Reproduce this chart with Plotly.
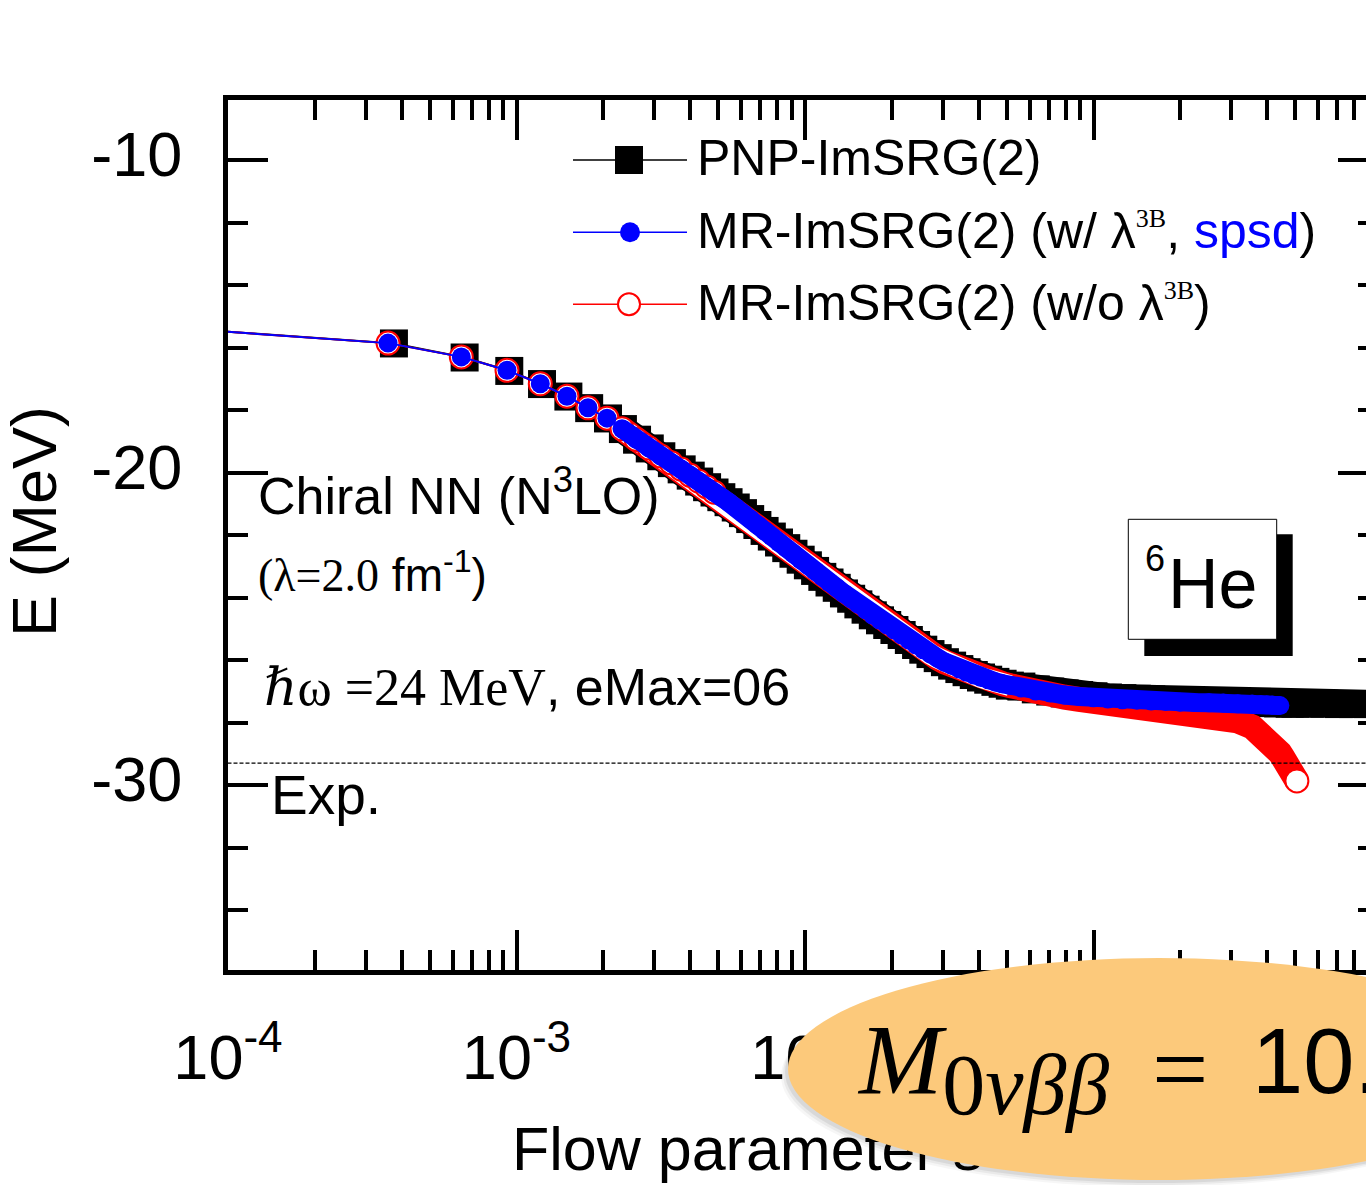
import plotly.graph_objects as go

# ---------------- data ----------------
# flow parameter s for the MR-IMSRG(2) runs (first value lies left of the axis)
s_mr = [7.6e-5, 3.586e-4, 6.437e-4, 9.27e-4, 1.209e-3, 1.496e-3, 1.769e-3, 2.059e-3,
        2.321e-3, 2.60e-3, 2.88e-3, 3.16e-3, 3.44e-3, 3.72e-3, 4.00e-3, 4.28e-3,
        4.56e-3, 4.84e-3,
        5.129e-3, 5.433e-3, 5.754e-3, 6.095e-3, 6.457e-3, 6.839e-3, 7.244e-3, 7.674e-3,
        8.128e-3, 8.610e-3, 9.120e-3, 9.661e-3, 1.0233e-2, 1.0839e-2, 1.1482e-2, 1.2162e-2,
        1.2882e-2, 1.3646e-2, 1.4454e-2, 1.5311e-2, 1.6218e-2, 1.7179e-2, 1.8197e-2, 1.9275e-2,
        2.0417e-2, 2.1627e-2, 2.2909e-2, 2.4266e-2, 2.5704e-2, 2.7227e-2, 2.8840e-2, 3.0549e-2,
        3.2359e-2, 3.4277e-2, 3.6308e-2, 3.8459e-2, 4.0738e-2, 4.3152e-2, 4.5709e-2, 4.8417e-2,
        5.129e-2,
        5.623e-2, 6.310e-2, 7.079e-2, 7.943e-2, 8.913e-2, 0.1000, 0.1122, 0.1259, 0.1413,
        0.1585, 0.1778, 0.1995, 0.2239, 0.2512, 0.2818, 0.3162, 0.3548,
        0.3802, 0.3981, 0.4169, 0.4365, 0.4426]

# MR-IMSRG(2) with lambda^3B (spsd) -- blue
E_mr3b = [-15.42, -15.86, -16.30, -16.73, -17.16, -17.56, -17.93, -18.26,
          -18.60, -18.94, -19.22, -19.47, -19.69, -19.89, -20.09, -20.28,
          -20.46, -20.63,
          -20.79, -20.95, -21.12, -21.30, -21.49, -21.68, -21.87, -22.05,
          -22.24, -22.42, -22.60, -22.79, -22.97, -23.15, -23.34, -23.52,
          -23.69, -23.87, -24.04, -24.22, -24.39, -24.57, -24.73, -24.88,
          -25.04, -25.20, -25.36, -25.52, -25.67, -25.81, -25.94, -26.07,
          -26.18, -26.29, -26.39, -26.48, -26.56, -26.63, -26.70, -26.76,
          -26.82,
          -26.90, -26.99, -27.06, -27.12, -27.17, -27.21, -27.25, -27.27, -27.29,
          -27.31, -27.33, -27.35, -27.36, -27.37, -27.38, -27.40, -27.41,
          -27.42, -27.43, -27.44, -27.46, -27.46]

# MR-IMSRG(2) without lambda^3B -- red (same s grid plus a tail)
E_mr = [-15.42, -15.86, -16.30, -16.73, -17.16, -17.56, -17.93, -18.26,
        -18.60, -18.94, -19.22, -19.47, -19.69, -19.89, -20.09, -20.28,
        -20.46, -20.63,
        -20.79, -20.95, -21.12, -21.30, -21.49, -21.68, -21.87, -22.05,
        -22.24, -22.42, -22.60, -22.79, -22.97, -23.15, -23.34, -23.52,
        -23.69, -23.87, -24.04, -24.22, -24.39, -24.57, -24.73, -24.88,
        -25.04, -25.20, -25.36, -25.52, -25.67, -25.81, -25.94, -26.07,
        -26.18, -26.29, -26.39, -26.48, -26.56, -26.63, -26.70, -26.76,
        -26.82,
        -26.94, -27.03, -27.12, -27.19, -27.26, -27.32, -27.38, -27.43, -27.48,
        -27.52, -27.56, -27.61, -27.67, -27.74, -27.83, -27.95, -28.14,
        -28.33, -28.50, -28.68, -28.90, -28.97]
s_mr_tail = [0.4519, 0.4624, 0.4732, 0.4808, 0.4875, 0.4943, 0.5012, 0.5070]
E_mr_tail = [-29.10, -29.24, -29.37, -29.48, -29.58, -29.68, -29.78, -29.87]

# PNP-IMSRG(2) -- black squares
s_pnp = [7.6e-5, 3.76e-4, 6.61e-4, 9.44e-4, 1.226e-3, 1.513e-3, 1.786e-3, 2.076e-3,
         2.338e-3, 2.617e-3, 2.897e-3, 3.177e-3, 3.457e-3, 3.737e-3, 4.017e-3, 4.297e-3,
         4.577e-3, 4.857e-3,
         5.129e-3, 5.433e-3, 5.754e-3, 6.095e-3, 6.457e-3, 6.839e-3, 7.244e-3, 7.674e-3,
         8.128e-3, 8.610e-3, 9.120e-3, 9.661e-3, 1.0233e-2, 1.0839e-2, 1.1482e-2, 1.2162e-2,
         1.2882e-2, 1.3646e-2, 1.4454e-2, 1.5311e-2, 1.6218e-2, 1.7179e-2, 1.8197e-2, 1.9275e-2,
         2.0417e-2, 2.1627e-2, 2.2909e-2, 2.4266e-2, 2.5704e-2, 2.7227e-2, 2.8840e-2, 3.0549e-2,
         3.2359e-2, 3.4277e-2, 3.6308e-2, 3.8459e-2, 4.0738e-2, 4.3152e-2, 4.5709e-2, 4.8417e-2,
         5.129e-2,
         5.623e-2, 6.310e-2, 7.079e-2, 7.943e-2, 8.913e-2, 0.1000, 0.1122, 0.1259, 0.1413,
         0.1585, 0.1778, 0.1995, 0.2239, 0.2512, 0.2818, 0.3162, 0.3548,
         0.3981, 0.4365, 0.4786, 0.5012, 0.5623, 0.6310, 0.7079, 0.7943, 0.8913, 1.0]
E_pnp = [-15.42, -15.87, -16.32, -16.75, -17.17, -17.57, -17.94, -18.27,
         -18.61, -18.95, -19.23, -19.48, -19.70, -19.90, -20.10, -20.29,
         -20.47, -20.64,
         -20.79, -20.95, -21.12, -21.30, -21.49, -21.68, -21.87, -22.05,
         -22.24, -22.42, -22.60, -22.79, -22.97, -23.15, -23.34, -23.52,
         -23.69, -23.87, -24.04, -24.22, -24.39, -24.57, -24.73, -24.88,
         -25.04, -25.20, -25.36, -25.52, -25.67, -25.81, -25.94, -26.07,
         -26.18, -26.29, -26.39, -26.48, -26.56, -26.63, -26.70, -26.76,
         -26.82,
         -26.85, -26.94, -27.01, -27.07, -27.12, -27.16, -27.20, -27.22, -27.24,
         -27.26, -27.28, -27.30, -27.31, -27.32, -27.33, -27.35, -27.36,
         -27.38, -27.39, -27.40, -27.40, -27.40, -27.40, -27.41, -27.41, -27.41, -27.41]

E_exp = -29.3   # experimental 6He binding energy (dotted line)

# axis ticks
x_major = [1e-4, 1e-3, 1e-2, 1e-1, 1.0]
x_major_text = ["10<sup>-4</sup>", "10<sup>-3</sup>", "10<sup>-2</sup>",
                "10<sup>-1</sup>", "10<sup>0</sup>"]
x_minor = [m * d for d in (1e-4, 1e-3, 1e-2, 1e-1) for m in range(2, 10)]
y_major = [-30, -20, -10]
y_major_text = ["-30", "-20", "-10"]
y_minor = [-34, -32, -28, -26, -24, -22, -18, -16, -14, -12]

assert len(s_mr) == len(E_mr3b) == len(E_mr)
assert len(s_pnp) == len(E_pnp)

# ---------------- layout geometry (pixels of the 1366x1185 page) ----------------
W, H = 1366, 1185
ML, MT = 228, 100                 # left / top margins
PLOT_BOTTOM = 970                 # pixel row of the plot's bottom edge
PW, PH = W - ML, H - MT           # paper area (bottom and right margins are 0)
DEC = 288.5                       # pixels per decade in the reference
X_RANGE = [-4, -4 + PW / DEC]
Y_RANGE = [-35.92, -8.08]
Y_DOMAIN = [(H - PLOT_BOTTOM) / PH, 1.0]

def px(xp):
    return (xp - ML) / PW

def py(yp):
    return (H - yp) / PH

N_SPARSE = 18   # well separated markers
I_BAND = 8      # from here on the markers merge into a band
I_KNEE = 59     # end of the steep part (red and blue coincide)

s_red = s_mr + s_mr_tail
E_red = E_mr + E_mr_tail

SANS = "Liberation Sans, Arial, sans-serif"
SERIF = "Liberation Serif, DejaVu Serif, serif"
BLUE, RED = "#0000FF", "#FF0000"

fig = go.Figure()

# PNP-IMSRG(2)
fig.add_trace(go.Scatter(x=s_pnp[I_BAND:], y=E_pnp[I_BAND:], mode="lines",
                         line=dict(color="black", width=28), hoverinfo="skip"))
fig.add_trace(go.Scatter(x=s_pnp, y=E_pnp, mode="lines+markers", name="PNP-ImSRG(2)",
                         line=dict(color="black", width=2),
                         marker=dict(symbol="square", size=28, color="black",
                                     line=dict(width=0))))
# MR-IMSRG(2) w/o lambda^3B
fig.add_trace(go.Scatter(x=s_red[I_BAND:], y=E_red[I_BAND:], mode="lines",
                         line=dict(color=RED, width=25), hoverinfo="skip"))
fig.add_trace(go.Scatter(x=s_red[I_BAND:I_KNEE], y=E_red[I_BAND:I_KNEE], mode="lines",
                         line=dict(color="white", width=21), hoverinfo="skip"))
fig.add_trace(go.Scatter(x=s_red, y=E_red, mode="lines", name="MR-ImSRG(2) (w/o λ3B)",
                         line=dict(color=RED, width=2)))
fig.add_trace(go.Scatter(x=s_red[1:N_SPARSE] + s_red[-1:], y=E_red[1:N_SPARSE] + E_red[-1:],
                         mode="markers",
                         marker=dict(symbol="circle", size=23, color="white",
                                     line=dict(color=RED, width=2))))
# MR-IMSRG(2) w/ lambda^3B
fig.add_trace(go.Scatter(x=s_mr[I_BAND:], y=E_mr3b[I_BAND:], mode="lines",
                         line=dict(color=BLUE, width=19), hoverinfo="skip"))
fig.add_trace(go.Scatter(x=s_mr, y=E_mr3b, mode="lines+markers",
                         name="MR-ImSRG(2) (w/ λ3B, spsd)",
                         line=dict(color=BLUE, width=2),
                         marker=dict(symbol="circle", size=19, color=BLUE, line=dict(width=0))))

# experimental value
fig.add_trace(go.Scatter(x=[1e-5, 10], y=[E_exp, E_exp], mode="lines", yaxis="y2",
                         line=dict(color="black", width=1.3, dash="4px,2px"), hoverinfo="skip"))

# x-axis title as text on a pixel-space helper axis (kept under the overlay ellipse)
fig.add_trace(go.Scatter(x=[512], y=[1155], xaxis="x3", yaxis="y3", mode="text",
                         text=["Flow parameter s"], textposition="middle right",
                         textfont=dict(family=SANS, size=61, color="black"),
                         cliponaxis=False, hoverinfo="skip"))

axis_common = dict(showgrid=False, zeroline=False, automargin=False)

fig.update_layout(
    width=W, height=H, template="none", showlegend=False,
    margin=dict(l=ML, r=0, t=MT, b=0, pad=0, autoexpand=False),
    paper_bgcolor="white", plot_bgcolor="rgba(0,0,0,0)",
    font=dict(family=SANS, color="black"),
    xaxis=dict(type="log", range=X_RANGE, domain=[0, 1], anchor="y",
               showline=True, linewidth=5, linecolor="black",
               mirror="ticks", ticks="inside", ticklen=40, tickwidth=4, tickcolor="black",
               tickmode="array", tickvals=x_major, ticktext=x_major_text,
               tickfont=dict(family=SANS, size=63, color="black"), ticklabelstandoff=28,
               minor=dict(ticks="inside", ticklen=20, tickwidth=4, tickcolor="black",
                          tickmode="array", tickvals=x_minor, showgrid=False),
               **axis_common),
    yaxis=dict(range=Y_RANGE, domain=Y_DOMAIN, anchor="x",
               showline=True, linewidth=5, linecolor="black", mirror=False,
               ticks="inside", ticklen=40, tickwidth=4, tickcolor="black",
               tickmode="array", tickvals=y_major, ticktext=y_major_text,
               tickfont=dict(family=SANS, size=63, color="black"),
               ticklabelstandoff=28, ticklabelshift=-6,
               minor=dict(ticks="inside", ticklen=20, tickwidth=4, tickcolor="black",
                          tickmode="array", tickvals=y_minor, showgrid=False),
               **axis_common),
    yaxis2=dict(range=Y_RANGE, overlaying="y", anchor="x", side="right", showline=False,
                ticks="inside", ticklen=28, tickwidth=4, tickcolor="black",
                tickmode="array", tickvals=y_major, showticklabels=False,
                minor=dict(ticks="inside", ticklen=8, tickwidth=4, tickcolor="black",
                           tickmode="array", tickvals=y_minor, showgrid=False),
                **axis_common),
    xaxis3=dict(range=[ML, W], domain=[0, 1], anchor="y3", visible=False, **axis_common),
    yaxis3=dict(range=[H, MT], domain=[0, 1], anchor="x3", visible=False, **axis_common),
)

shapes = []
# legend samples
legend_rows = [(160, "black"), (232.3, BLUE), (304.3, RED)]
for yy, col in legend_rows:
    shapes.append(dict(type="line", xref="paper", yref="paper", x0=px(573), x1=px(687),
                       y0=py(yy), y1=py(yy), line=dict(color=col, width=1.6), layer="above"))
shapes.append(dict(type="rect", xref="paper", yref="paper", x0=px(615), x1=px(643),
                   y0=py(174), y1=py(146), fillcolor="black", line=dict(width=0), layer="above"))
shapes.append(dict(type="circle", xref="paper", yref="paper", x0=px(620), x1=px(640),
                   y0=py(242.3), y1=py(222.3), fillcolor=BLUE, line=dict(width=0), layer="above"))
shapes.append(dict(type="circle", xref="paper", yref="paper", x0=px(618), x1=px(640),
                   y0=py(315.3), y1=py(293.3), fillcolor="white", line=dict(color=RED, width=2),
                   layer="above"))
# 6He box with shadow
shapes.append(dict(type="rect", xref="paper", yref="paper", x0=px(1144.3), x1=px(1292.7),
                   y0=py(656), y1=py(534.3), fillcolor="black", line=dict(width=0), layer="above"))
shapes.append(dict(type="rect", xref="paper", yref="paper", x0=px(1128.3), x1=px(1276.7),
                   y0=py(639.3), y1=py(519.3), fillcolor="white", line=dict(color="black", width=1),
                   layer="above"))
# overlay ellipse with soft shadow
for dx, dy, a in [(-7, 7, 0.035), (-5, 5, 0.05), (-3, 3, 0.07)]:
    shapes.append(dict(type="circle", xref="paper", yref="paper",
                       x0=px(788 + dx), x1=px(1530 + dx), y0=py(1180 + dy), y1=py(958 + dy),
                       fillcolor=f"rgba(0,0,0,{a})", line=dict(width=0), layer="above"))
shapes.append(dict(type="circle", xref="paper", yref="paper", x0=px(788), x1=px(1530),
                   y0=py(1180), y1=py(958), fillcolor="#FCC97B", line=dict(width=0), layer="above"))

def note(text, xl, y, size, family=SANS, yanchor="bottom", **kw):
    d = dict(text=text, xref="paper", yref="paper", x=px(xl), y=py(y), xanchor="left",
             yanchor=yanchor, showarrow=False, font=dict(family=family, size=size, color="black"))
    d.update(kw)
    return d

sup3b = "<sup><span style='font-family:Liberation Serif;font-size:26px'>3B</span></sup>"
legend_labels = ["PNP-ImSRG(2)",
                 "MR-ImSRG(2) (w/ λ" + sup3b + ", <span style='color:#0000FF'>spsd</span>)",
                 "MR-ImSRG(2) (w/o λ" + sup3b + ")"]
legend_bottoms = [188.1, 261.4, 333.1]

annotations = [note(t, 695, b, 50) for t, b in zip(legend_labels, legend_bottoms)]
annotations += [
    # y-axis title
    note("E (MeV)", 34, 522, 63, yanchor="middle", xanchor="center", textangle=-90),
    note("Chiral NN (N<sup>3</sup>LO)", 255.5, 527, 52),
    note("<span style='font-family:Liberation Serif'>(λ=2.0</span> fm<sup>-1</sup>)", 256, 603, 46),
    note("<span style='font-family:Liberation Serif,DejaVu Serif'><i>ℏ</i>ω =24 MeV</span>, eMax=06",
         262, 718, 52),
    note("Exp.", 269, 828, 55),
    note("He", 1166, 625.4, 70),
    note("6", 1142.5, 580.6, 36),
    note("<i>M</i><sub><span style='font-size:86px'>0<i>νββ</i></span></sub>", 855, 1002, 100,
         family=SERIF, yanchor="top"),
    note("=", 1150, 1012, 100, family=SERIF, yanchor="top"),
    note("10.", 1250, 1008, 92, family=SANS, yanchor="top"),
]

fig.update_layout(shapes=shapes, annotations=annotations)
fig.write_html("out.html")
